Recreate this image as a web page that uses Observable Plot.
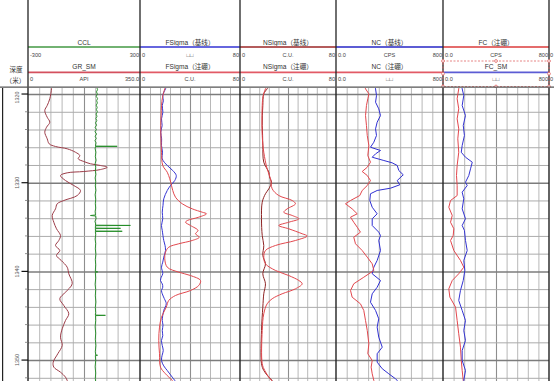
<!DOCTYPE html>
<html><head><meta charset="utf-8">
<script src="https://cdn.jsdelivr.net/npm/d3@7"></script>
<script src="https://cdn.jsdelivr.net/npm/@observablehq/plot@0.6"></script>
<style>
html,body{margin:0;padding:0;background:#fff;}
#wrap{position:relative;width:554px;height:381px;overflow:hidden;background:#fff;}
#wrap svg{position:absolute;}
</style></head><body><div id="wrap"></div>
<script>
// ---------------- data ----------------
const depthDomain = [1319.32, 1352.36];
const depthLabels = [1320, 1330, 1340, 1350];
const gridDepths = d3.range(1320, 1353, 2);

// [depth (m), value]
const CCL = [[1319.2,66],[1319.45,70],[1319.7,64],[1319.95,69],[1320.2,63],[1320.45,70],[1320.7,65],[1320.95,69],[1321.2,63],[1321.45,68],[1321.7,64],[1321.95,69],[1322.2,62],[1322.45,67],[1322.7,61],[1322.95,66],[1323.2,59],[1323.45,65],[1323.7,57],[1323.95,64],[1324.2,56],[1324.45,65],[1324.7,57],[1324.95,63],[1325.2,56],[1325.45,62],[1325.7,59],[1325.81,59],[1325.84,175],[1325.87,59],[1326.1,57],[1326.5,61],[1327.0,58],[1327.4,62],[1327.8,57],[1328.2,60],[1328.6,58],[1329.0,61],[1329.4,57],[1329.8,60],[1330.3,58],[1330.8,61],[1331.3,57],[1331.8,60],[1332.3,58],[1332.8,60],[1333.2,57],[1333.58,59],[1333.64,32],[1333.7,60],[1334.0,62],[1334.3,56],[1334.6,60],[1334.73,58],[1334.76,246],[1334.79,59],[1335.06,58],[1335.09,193],[1335.12,58],[1335.39,59],[1335.42,202],[1335.45,58],[1335.8,60],[1336.3,57],[1336.8,60],[1337.4,58],[1338.0,61],[1338.6,58],[1339.2,60],[1339.95,58],[1340.0,71],[1340.05,58],[1340.7,60],[1341.4,57],[1342.0,60],[1342.7,58],[1343.4,61],[1344.0,58],[1344.6,60],[1344.87,58],[1344.9,112],[1344.93,59],[1345.5,60],[1346.2,57],[1346.9,60],[1347.6,58],[1348.3,61],[1349.0,58],[1349.36,60],[1349.4,70],[1349.44,58],[1350.0,60],[1350.7,57],[1351.4,60],[1352.0,58],[1352.5,60]];

const GR_SM = [[1319.2,72],[1319.36,71.9],[1320.48,66.6],[1321.24,58.4],[1321.8,50.9],[1322.56,58.4],[1323.12,66.6],[1323.69,56.3],[1324.25,50.9],[1324.99,58.4],[1325.56,64.7],[1325.86,84.4],[1326.12,120.9],[1326.51,146.9],[1326.88,160.3],[1327.25,155.3],[1327.55,172.8],[1327.81,193.8],[1328.0,225],[1328.2,245.9],[1328.46,225],[1328.68,172.8],[1328.83,120.9],[1329.13,100],[1329.7,115.6],[1330.26,141.6],[1330.82,162.5],[1331.39,152.2],[1331.95,110.3],[1332.32,89.7],[1332.89,84.4],[1333.64,74.1],[1334.4,79.1],[1335.14,87.5],[1335.9,100],[1336.46,94.7],[1337.02,84.4],[1337.59,97.8],[1338.15,87.5],[1338.71,102.2],[1339.47,120.9],[1340.21,125.9],[1341.34,136.6],[1342.29,115.6],[1343.03,97.8],[1343.79,110.3],[1344.72,125.9],[1345.48,115.6],[1346.42,105.3],[1347.36,100],[1348.3,105.3],[1349.23,91.6],[1350.18,77.2],[1350.74,79.1],[1351.31,100],[1351.87,115.6],[1352.24,120.9],[1352.5,124]];

const FSigmaBase = [[1319.2,20.5],[1319.36,20],[1320.11,17.8],[1320.7,18.3],[1321.24,17.4],[1322.0,17.9],[1322.74,16.8],[1323.5,17.3],[1324.25,16.2],[1325.0,16.9],[1325.75,16.8],[1326.5,17.6],[1327.25,17.4],[1328.0,21.4],[1328.57,25.8],[1329.13,28.6],[1329.7,27.4],[1330.26,24],[1330.82,21.4],[1331.76,18.6],[1332.5,18],[1333.27,17.4],[1334.0,17.8],[1334.77,16.8],[1335.33,17.4],[1336.46,18.6],[1337.0,19.6],[1337.59,20],[1338.34,18.6],[1338.9,17.8],[1339.47,16.8],[1340.21,17.8],[1340.6,16.6],[1340.97,16],[1341.35,17.4],[1341.73,17.8],[1342.1,16.8],[1342.47,17.4],[1343.0,19],[1343.6,20.6],[1344.35,18.6],[1345.48,17.4],[1346.0,18],[1346.61,17.4],[1347.2,17.8],[1347.73,16.8],[1348.3,17.4],[1348.86,18.2],[1349.4,17.3],[1349.99,16.8],[1350.6,18.6],[1351.12,21.4],[1351.87,25.4],[1352.24,27.4],[1352.5,28.5]];

const FSigmaBoron = [[1319.2,19.8],[1319.36,19.4],[1320.3,17.6],[1321.24,16.8],[1322.4,16.5],[1323.49,16.2],[1325.0,16.4],[1326.51,16.8],[1328.0,17.8],[1328.76,21.4],[1329.5,23.4],[1330.26,24.8],[1330.82,25.8],[1331.58,28],[1332.32,33.4],[1332.89,41.4],[1333.27,49.4],[1333.45,52.8],[1333.83,46.6],[1334.21,37.4],[1334.4,36],[1334.77,40],[1335.33,46],[1335.7,44],[1336.09,47],[1336.46,41.4],[1336.83,30.6],[1337.22,22.6],[1337.78,20],[1338.52,19.4],[1339.47,21.4],[1340.03,30.6],[1340.41,40],[1340.97,48],[1341.53,46.6],[1342.1,40],[1342.66,28],[1343.22,22.6],[1343.98,20.6],[1345.11,16.8],[1346.23,15.2],[1347.73,14.6],[1349.23,15.2],[1350.74,16],[1351.49,20],[1352.24,25.4],[1352.5,27]];

const NSigmaBase = [[1319.2,23],[1319.36,22.2],[1319.92,19.4],[1321.24,18.6],[1322.4,18.2],[1323.49,18.1],[1324.6,18.4],[1325.75,18.6],[1327.63,19.4],[1328.76,23.6],[1329.3,24.2],[1329.89,25.8],[1330.63,23.6],[1331.19,20.8],[1332.14,18.1],[1334.01,17.5],[1335.9,18.1],[1337.02,19.4],[1338.15,18.6],[1339.09,20.8],[1340.21,18.6],[1341.34,20.8],[1342.47,19.4],[1343.98,18.6],[1346.61,17.5],[1350.36,17.5],[1351.12,19.4],[1351.87,23.6],[1352.24,26.4],[1352.5,28]];

const NSigmaBoron = [[1319.2,21.5],[1319.36,20.8],[1320.2,18.8],[1321.24,18.1],[1324.62,18.1],[1326.51,19.4],[1328.38,22.2],[1329.5,25],[1330.63,26.4],[1331.39,31.9],[1331.95,43.1],[1332.32,45.8],[1332.89,38.9],[1333.27,36.1],[1333.64,43.1],[1334.01,48.6],[1334.4,40.2],[1334.77,31.9],[1335.14,40.2],[1335.7,51.4],[1335.95,55.6],[1336.46,45.8],[1337.02,29.2],[1337.59,20.8],[1338.34,19.4],[1339.09,20.8],[1339.84,29.2],[1340.41,40.2],[1340.97,48.6],[1341.34,51.4],[1341.91,45.8],[1342.47,34.7],[1343.03,26.4],[1343.6,22.2],[1344.72,19.4],[1346.61,18.1],[1350.36,18.1],[1351.12,20.2],[1351.87,23.6],[1352.24,25.8],[1352.5,27]];

const NCBase = [[1319.2,290],[1319.36,292],[1320.11,299],[1320.87,292],[1321.61,316],[1322.37,329],[1323.12,304],[1323.87,292],[1324.62,299],[1325.38,279],[1325.94,254],[1326.31,329],[1326.69,292],[1327.07,267],[1327.44,354],[1327.7,416],[1328.0,454],[1328.57,466],[1329.05,499],[1329.7,454],[1330.18,473],[1330.56,404],[1330.82,304],[1331.19,254],[1331.95,249],[1332.71,267],[1333.45,304],[1334.01,267],[1334.77,267],[1335.52,316],[1335.9,329],[1336.46,316],[1337.59,329],[1338.71,304],[1339.47,279],[1340.21,267],[1340.97,329],[1341.73,304],[1342.47,267],[1343.42,254],[1344.35,292],[1345.29,316],[1346.23,304],[1347.36,316],[1348.49,342],[1349.23,304],[1350.18,304],[1350.92,342],[1351.49,391],[1352.05,441],[1352.24,454],[1352.5,470]];

const NCBoron = [[1319.2,215],[1319.36,217],[1319.92,242],[1320.48,234],[1321.24,224],[1322.37,217],[1323.49,224],[1324.62,230],[1325.75,242],[1326.88,234],[1327.63,254],[1328.2,230],[1328.68,192],[1329.13,230],[1329.7,254],[1330.26,230],[1330.82,192],[1331.39,174],[1331.95,105],[1332.32,67],[1332.89,117],[1333.45,155],[1333.83,105],[1334.4,129],[1334.96,155],[1335.52,179],[1336.09,129],[1336.83,142],[1337.59,192],[1338.34,230],[1339.09,267],[1339.84,279],[1340.6,204],[1341.34,129],[1342.1,105],[1342.85,117],[1343.6,179],[1344.35,204],[1345.48,217],[1346.61,230],[1348.11,242],[1349.23,234],[1349.99,267],[1350.74,259],[1351.49,267],[1352.24,279],[1352.5,282]];

const FCBoron = [[1319.2,116],[1319.36,115],[1320.48,103],[1321.61,115],[1322.74,103],[1323.87,115],[1324.99,108],[1326.51,115],[1328.0,103],[1329.13,98],[1330.26,103],[1331.39,103],[1331.95,53],[1332.71,40],[1333.64,66],[1334.4,53],[1335.14,78],[1335.9,73],[1336.46,53],[1337.59,78],[1338.71,128],[1339.47,153],[1340.21,115],[1340.97,66],[1341.91,40],[1342.85,48],[1343.98,91],[1345.48,103],[1346.98,115],[1348.49,128],[1349.99,134],[1351.12,141],[1352.24,149],[1352.5,150]];

const FC_SM = [[1319.2,140],[1319.36,141],[1320.11,153],[1321.24,141],[1322.37,166],[1323.49,149],[1324.62,158],[1325.75,141],[1326.51,134],[1327.07,166],[1327.63,217],[1328.38,204],[1329.13,191],[1329.89,166],[1330.26,179],[1331.01,141],[1331.76,153],[1332.89,141],[1334.01,166],[1334.77,141],[1335.33,158],[1336.46,166],[1337.59,179],[1338.71,153],[1339.84,161],[1340.97,149],[1342.1,128],[1343.22,115],[1344.35,141],[1345.48,166],[1346.61,153],[1347.73,166],[1348.86,141],[1349.99,141],[1351.12,166],[1352.24,153],[1352.5,150]];

// header text
const headerRows = [
 {t:0,r:0,title:"CCL",        color:"#72b272", left:"-300", unit:"",     right:"300"},
 {t:0,r:1,title:"GR_SM",      color:"#d4505e", left:"0",    unit:"API",  right:"350.0"},
 {t:1,r:0,title:"FSigma（基线）",color:"#6666de", left:"0",  unit:"□□",  right:"80"},
 {t:1,r:1,title:"FSigma（注硼）",color:"#e25a66", left:"0",  unit:"C.U.", right:"80"},
 {t:2,r:0,title:"NSigma（基线）",color:"#b45c5c", left:"0",  unit:"C.U.", right:"80"},
 {t:2,r:1,title:"NSigma（注硼）",color:"#e25a66", left:"0",  unit:"C.U.", right:"80"},
 {t:3,r:0,title:"NC（基线）",  color:"#5c5cd4", left:"0.0",  unit:"CPS",  right:"800"},
 {t:3,r:1,title:"NC（注硼）",  color:"#e25a66", left:"0.0",  unit:"□□",  right:"800"},
 {t:4,r:0,title:"FC（注硼）",  color:"#e46c6c", left:"0.0",  unit:"CPS",  right:"800"},
 {t:4,r:1,title:"FC_SM",      color:"#5c5cd4", left:"0.0",  unit:"□□",  right:"800"}
];

// ---------------- layout ----------------
const TOP = 88, H = 293;
const edges = [28, 140, 240, 336, 443, 549];
const FONT = "'Liberation Sans','Noto Sans CJK SC','DejaVu Sans',sans-serif";
const wrap = d3.select("#wrap");

// header
const hdr = wrap.append("svg").attr("width", 554).attr("height", TOP).style("left","0px").style("top","0px")
  .attr("font-family", FONT);
const rowY = [{title:42.3, line:47, lab:54.6},{title:66.6, line:72.4, lab:79.2}];
headerRows.forEach(h => {
  const x0 = edges[h.t], x1 = edges[h.t+1], cx = (x0+x1)/2, ry = rowY[h.r];
  hdr.append("text").attr("x",cx).attr("y",ry.title).attr("text-anchor","middle").attr("dominant-baseline","central")
     .attr("font-size",6.6).attr("fill","#333").text(h.title);
  hdr.append("line").attr("x1",x0).attr("x2",x1).attr("y1",ry.line).attr("y2",ry.line).attr("stroke",h.color).attr("stroke-width",1.8);
  hdr.append("text").attr("x",x0+2).attr("y",ry.lab).attr("dominant-baseline","central").attr("font-size",5.6).attr("fill","#444").text(h.left);
  hdr.append("text").attr("x",x1-1).attr("y",ry.lab).attr("text-anchor","end").attr("dominant-baseline","central").attr("font-size",5.6).attr("fill","#444").text(h.right);
  if (h.unit) hdr.append("text").attr("x",cx).attr("y",ry.lab).attr("text-anchor","middle").attr("dominant-baseline","central").attr("font-size",5.6).attr("fill","#444").text(h.unit);
});
[0,1].forEach(r => hdr.append("text").attr("x",550).attr("y",rowY[r].lab).attr("dominant-baseline","central").attr("font-size",5.6).attr("fill","#444").text("0"));
hdr.append("text").attr("x",16).attr("y",69.5).attr("text-anchor","middle").attr("dominant-baseline","central").attr("font-size",6.6).attr("fill","#333").text("深度");
hdr.append("text").attr("x",15.5).attr("y",80).attr("text-anchor","middle").attr("dominant-baseline","central").attr("font-size",6.6).attr("fill","#333").text("（米）");
edges.forEach(x => hdr.append("line").attr("x1",x).attr("x2",x).attr("y1",0).attr("y2",TOP).attr("stroke","#222").attr("stroke-width",1.3));
// selection box around FC_SM header row
const sb = {x0:edges[4], x1:edges[5], y0:61, y1:86.5};
hdr.append("rect").attr("x",sb.x0).attr("y",sb.y0).attr("width",sb.x1-sb.x0).attr("height",sb.y1-sb.y0)
   .attr("fill","none").attr("stroke","#e06464").attr("stroke-width",0.8).attr("stroke-dasharray","2,1.5");
[[sb.x0,sb.y0],[(sb.x0+sb.x1)/2,sb.y0],[sb.x1,sb.y0],[sb.x0,(sb.y0+sb.y1)/2],[sb.x1,(sb.y0+sb.y1)/2],[sb.x0,sb.y1],[(sb.x0+sb.x1)/2,sb.y1],[sb.x1,sb.y1]]
  .forEach(([x,y]) => hdr.append("circle").attr("cx",x).attr("cy",y).attr("r",1.4).attr("fill","#fff").attr("stroke","#e06464").attr("stroke-width",0.8));
hdr.append("line").attr("x1",0).attr("x2",554).attr("y1",87.2).attr("y2",87.2).attr("stroke","#555").attr("stroke-width",1.2);

// tracks
function trackPlot(x0, x1, domain, curves, withGrid) {
  const [a, b] = domain, step = (b - a) / 10;
  const vgrid = d3.range(1, 10).map(i => a + i * step);
  const marks = [];
  if (withGrid) {
    marks.push(Plot.ruleX(vgrid.filter((d, i) => i !== 4), {stroke: "#b8b8b8", strokeWidth: 1}));
    marks.push(Plot.ruleX([vgrid[4]], {stroke: "#8e8e8e", strokeWidth: 1.1}));
    marks.push(Plot.ruleY(gridDepths.filter(d => d % 10 !== 0), {stroke: "#ababab", strokeWidth: 1}));
    marks.push(Plot.ruleY(gridDepths.filter(d => d % 10 === 0), {stroke: "#7c7c7c", strokeWidth: 1.5}));
  }
  curves.forEach(c => marks.push(Plot.line(c.data, {x: d => d[1], y: d => d[0], stroke: c.color, strokeWidth: c.w || 1, strokeLinejoin: "bevel", curve: c.curve, clip: true})));
  const svg = Plot.plot({
    width: x1 - x0, height: H, margin: 0,
    style: {background: withGrid ? "white" : "transparent", overflow: "hidden"},
    x: {domain, axis: null},
    y: {domain: depthDomain, reverse: true, axis: null},
    marks
  });
  svg.style.left = x0 + "px"; svg.style.top = TOP + "px"; svg.style.position = "absolute"; svg.style.maxWidth = "none";
  wrap.node().appendChild(svg);
}
const smooth = "catmull-rom";
trackPlot(edges[0], edges[1], [0, 350], [{data: GR_SM, color: "#9c3c48", curve: smooth}], true);
trackPlot(edges[0], edges[1], [-300, 300], [{data: CCL, color: "#1f8a22", curve: "linear", w: 0.9}], false);
trackPlot(edges[1], edges[2], [0, 80], [{data: FSigmaBase, color: "#3434d2", curve: smooth}, {data: FSigmaBoron, color: "#e2484e", curve: smooth}], true);
trackPlot(edges[2], edges[3], [0, 80], [{data: NSigmaBase, color: "#8e2424", curve: smooth}, {data: NSigmaBoron, color: "#e2484e", curve: smooth}], true);
trackPlot(edges[3], edges[4], [0, 800], [{data: NCBase, color: "#3030d2", curve: "linear"}, {data: NCBoron, color: "#e2484e", curve: "linear"}], true);
trackPlot(edges[4], edges[5], [0, 800], [{data: FCBoron, color: "#e2484e", curve: "linear"}, {data: FC_SM, color: "#3434d2", curve: "linear"}], true);

// overlay: borders & depth labels
const ov = wrap.append("svg").attr("width", 554).attr("height", H).style("left","0px").style("top", TOP + "px").attr("font-family", FONT);
const yD = d3.scaleLinear().domain(depthDomain).range([0, H]);
ov.append("line").attr("x1",2.6).attr("x2",2.6).attr("y1",0).attr("y2",H).attr("stroke","#222").attr("stroke-width",1.2);
edges.forEach(x => ov.append("line").attr("x1",x).attr("x2",x).attr("y1",0).attr("y2",H).attr("stroke","#222").attr("stroke-width",1.4));
gridDepths.forEach(d => {
  const major = d % 10 === 0;
  ov.append("line").attr("x1", major ? 21.5 : 25).attr("x2", 28).attr("y1", yD(d)).attr("y2", yD(d)).attr("stroke", major ? "#111" : "#777").attr("stroke-width", major ? 1.2 : 0.8);
});
depthLabels.forEach((d, i) => {
  const y = yD(d) + (i === 0 ? 3.5 : 0);
  ov.append("text").attr("transform", `translate(17,${y}) rotate(-90)`).attr("text-anchor","middle").attr("dominant-baseline","central")
    .attr("font-size",5.4).attr("fill","#555").text(String(d));
});
</script></body></html>
